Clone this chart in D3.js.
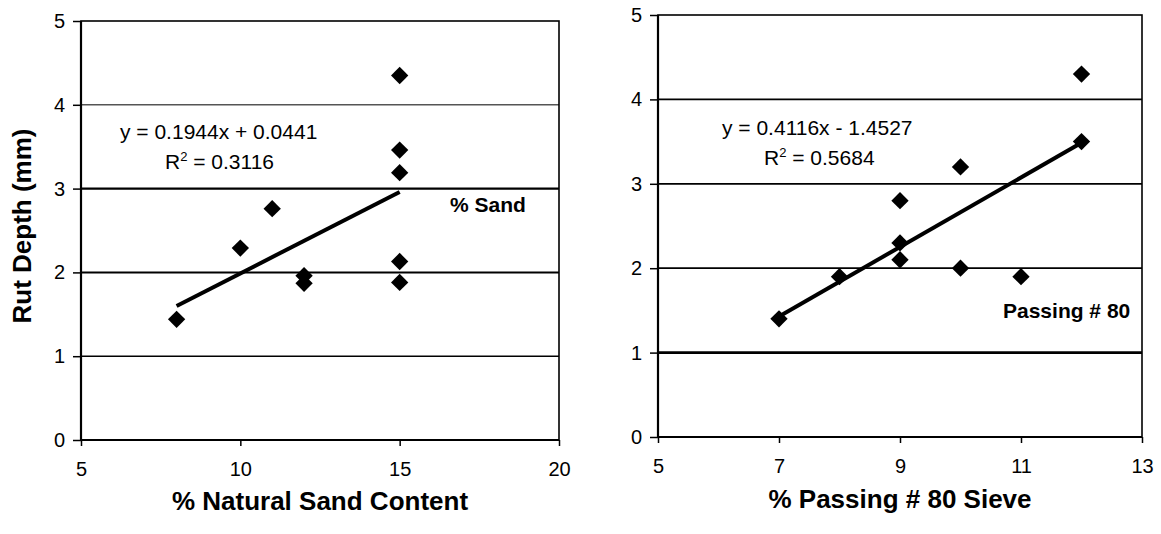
<!DOCTYPE html>
<html>
<head>
<meta charset="utf-8">
<script src="https://cdn.jsdelivr.net/npm/d3@7"></script>
<style>
  body { margin: 0; background: #fff; }
  text { font-family: "Liberation Sans", Arial, sans-serif; fill: #000; }
</style>
</head>
<body>
<script>
// left panel: % natural sand content vs rut depth
const sandX = [8, 10, 11, 12, 12, 15, 15, 15, 15, 15];
const sandY = [1.44, 2.29, 2.76, 1.96, 1.87, 4.35, 3.46, 3.19, 2.13, 1.88];
const sandFit = [0.1944, 0.0441];   // slope, intercept
const sandTicksX = [5, 10, 15, 20];

// right panel: % passing #80 sieve vs rut depth
const sieveX = [7, 8, 9, 9, 9, 10, 10, 11, 12, 12];
const sieveY = [1.4, 1.9, 2.8, 2.3, 2.1, 3.2, 2.0, 1.9, 4.3, 3.5];
const sieveFit = [0.4116, -1.4527];
const sieveTicksX = [5, 7, 9, 11, 13];

const ticksY = [0, 1, 2, 3, 4, 5];

const svg = d3.select('body')
  .append('svg')
  .attr('width', 1161)
  .attr('height', 534);

function drawPanel(opt) {
  const x = d3.scaleLinear().domain(opt.xDomain).range([opt.left, opt.right]);
  const y = d3.scaleLinear().domain([0, 5]).range([opt.bottom, opt.top]);
  const g = svg.append('g');

  // gridlines
  g.selectAll('.grid')
    .data(ticksY.filter(d => d > 0 && d < 5))
    .enter()
      .append('line')
      .attr('x1', opt.left)
      .attr('x2', opt.right)
      .attr('y1', d => y(d))
      .attr('y2', d => y(d))
      .attr('stroke', d => opt.gridColor[d])
      .attr('stroke-width', d => opt.gridWidth[d]);

  // frame
  g.append('rect')
    .attr('x', opt.left)
    .attr('y', opt.top)
    .attr('width', opt.right - opt.left)
    .attr('height', opt.bottom - opt.top)
    .attr('fill', 'none')
    .attr('stroke', '#000')
    .attr('stroke-width', 1.6);
  g.append('line')
    .attr('x1', opt.left).attr('x2', opt.left)
    .attr('y1', opt.top).attr('y2', opt.bottom)
    .attr('stroke', '#000').attr('stroke-width', 2.2);
  g.append('line')
    .attr('x1', opt.left).attr('x2', opt.right)
    .attr('y1', opt.bottom).attr('y2', opt.bottom)
    .attr('stroke', '#000').attr('stroke-width', 2.2);

  // axes
  const yAxis = d3.axisLeft(y).tickValues(ticksY).tickFormat(d3.format('d'))
    .tickSize(8).tickPadding(8);
  const xAxis = d3.axisBottom(x).tickValues(opt.ticksX).tickFormat(d3.format('d'))
    .tickSize(6).tickPadding(16);

  const ay = g.append('g').attr('transform', `translate(${opt.left},0)`).call(yAxis);
  const ax = g.append('g').attr('transform', `translate(0,${opt.bottom})`).call(xAxis);
  [ay, ax].forEach(a => {
    a.select('.domain').remove();
    a.selectAll('line').attr('stroke', '#000').attr('stroke-width', 1.5);
    a.selectAll('text')
      .attr('font-size', 20)
      .attr('font-family', '"Liberation Sans", Arial, sans-serif')
      .attr('fill', '#000');
  });

  // trend line
  const xs = d3.extent(opt.xs);
  g.append('line')
    .attr('x1', x(xs[0]))
    .attr('y1', y(opt.fit[0] * xs[0] + opt.fit[1]))
    .attr('x2', x(xs[1]))
    .attr('y2', y(opt.fit[0] * xs[1] + opt.fit[1]))
    .attr('stroke', '#000')
    .attr('stroke-width', 4);

  // points
  g.selectAll('.pt')
    .data(opt.xs.map((d, i) => [d, opt.ys[i]]))
    .enter()
      .append('path')
      .attr('class', 'pt')
      .attr('d', d3.symbol(d3.symbolSquare, 150))
      .attr('transform', d => `translate(${x(d[0])},${y(d[1])}) rotate(45)`)
      .attr('fill', '#000');

  // equation
  g.append('text')
    .attr('x', opt.eqX)
    .attr('y', opt.eqY)
    .attr('font-size', 21)
    .text(opt.eq);
  const r2 = g.append('text')
    .attr('x', opt.r2X)
    .attr('y', opt.eqY + 30)
    .attr('font-size', 21);
  r2.append('tspan').text('R');
  r2.append('tspan').attr('font-size', 13).attr('dy', -8).text('2');
  r2.append('tspan').attr('dy', 8).text(' = ' + opt.r2);

  // series label
  g.append('text')
    .attr('x', opt.labelX)
    .attr('y', opt.labelY)
    .attr('font-size', 21)
    .attr('font-weight', 'bold')
    .text(opt.label);

  // x title
  g.append('text')
    .attr('x', (opt.left + opt.right) / 2)
    .attr('y', opt.titleY)
    .attr('text-anchor', 'middle')
    .attr('font-size', 26)
    .attr('font-weight', 'bold')
    .text(opt.xTitle);
}

drawPanel({
  xDomain: [5, 20], ticksX: sandTicksX,
  left: 81, right: 559, top: 21, bottom: 440,
  xs: sandX, ys: sandY, fit: sandFit,
  gridWidth: { 1: 1.6, 2: 2, 3: 2.2, 4: 1.4 },
  gridColor: { 1: '#000', 2: '#000', 3: '#000', 4: '#555' },
  eq: 'y = 0.1944x + 0.0441', eqX: 120, eqY: 139,
  r2: '0.3116', r2X: 165,
  label: '% Sand', labelX: 450, labelY: 212,
  xTitle: '% Natural Sand Content', titleY: 510
});

drawPanel({
  xDomain: [5, 13], ticksX: sieveTicksX,
  left: 658, right: 1142, top: 15, bottom: 437,
  xs: sieveX, ys: sieveY, fit: sieveFit,
  gridWidth: { 1: 2.6, 2: 1.8, 3: 1.8, 4: 1.8 },
  gridColor: { 1: '#000', 2: '#000', 3: '#000', 4: '#000' },
  eq: 'y = 0.4116x - 1.4527', eqX: 722, eqY: 135,
  r2: '0.5684', r2X: 764,
  label: 'Passing # 80', labelX: 1003, labelY: 318,
  xTitle: '% Passing # 80 Sieve', titleY: 508
});

// shared y title
svg.append('text')
  .attr('transform', 'translate(31,226) rotate(-90)')
  .attr('text-anchor', 'middle')
  .attr('font-size', 26)
  .attr('font-weight', 'bold')
  .text('Rut Depth (mm)');
</script>
</body>
</html>
